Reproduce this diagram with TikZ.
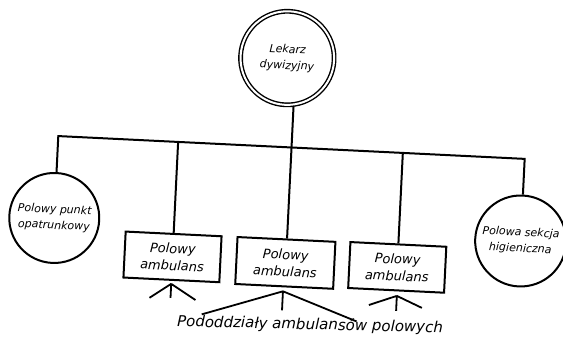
\documentclass[tikz,border=0pt]{standalone}
\usepackage{fontspec}
\setmainfont{DejaVu Sans}
\begin{document}
\begin{tikzpicture}[x=1pt,y=1pt,
  line width=2pt,
  unit/.style={circle,draw,inner sep=0pt,align=center,font=\itshape\fontsize{11}{17}\selectfont},
  chief/.style={circle,draw,double=white,double distance=2pt,line width=1.4pt,
    outer sep=2.4pt,inner sep=0pt,align=center,font=\itshape\fontsize{11}{16}\selectfont},
  ambbox/.style={rectangle,draw,minimum width=96,minimum height=46,inner sep=0pt,
    align=center,font=\itshape\fontsize{13}{17}\selectfont},
  fork/.style={line width=1.8pt}]
\useasboundingbox (0,0) rectangle (563,-341);
\begin{scope}[shift={(290,-147)},rotate=-2.8,transform shape]
  % command post and the units under it
  \node[chief,minimum size=93.6] (top) at (-7,88.7) {Lekarz\\dywizyjny};
  \node[unit,minimum size=90] (left) at (-232,-82.4) {Polowy punkt\\[-1pt]opatrunkowy};
  \node[unit,minimum size=91] (right) at (235,-82.6) {Polowa sekcja\\[-1pt]higieniczna};
  \node[ambbox] (b1) at (-112,-115.5) {Polowy\\ambulans};
  \node[ambbox,minimum width=98,minimum height=47] (b2) at (1,-116) {Polowy\\ambulans};
  \node[ambbox] (b3) at (113,-115) {Polowy\\ambulans};
  \coordinate (bus) at (0,-0.4);
  % distribution line
  \draw (left.north) |- (bus) -| (right.north);
  \draw (top.-80) -- (top.-80 |- b2.north);
  \draw (b1.north) -- (b1.north |- bus);
  \draw (b3.north) -- (b3.north |- bus);
  % sub-units of each ambulance
  \coordinate (a1) at ([yshift=-3pt]b1.south);
  \coordinate (a2) at ([xshift=-1pt,yshift=-4pt]b2.south);
  \coordinate (a3) at ([xshift=1pt,yshift=-4.5pt]b3.south);
  \draw[fork] (a1) -- ++(-21,-15) (a1) -- ++(0,-14) (a1) -- ++(25,-15);
  \draw[fork] (a2) -- ++(-80,-27) (a2) -- ++(0,-19) (a2) -- ++(75,-26.5);
  \draw[fork] (a3) -- ++(-27.5,-10.5) (a3) -- ++(0,-15) (a3) -- ++(25.6,-10.8);
  \node[font=\itshape\fontsize{15}{17}\selectfont,rotate=1.5] (sub) at (28.7,-176.8)
    {Pododdziały ambulansów polowych};
\end{scope}
\end{tikzpicture}
\end{document}
